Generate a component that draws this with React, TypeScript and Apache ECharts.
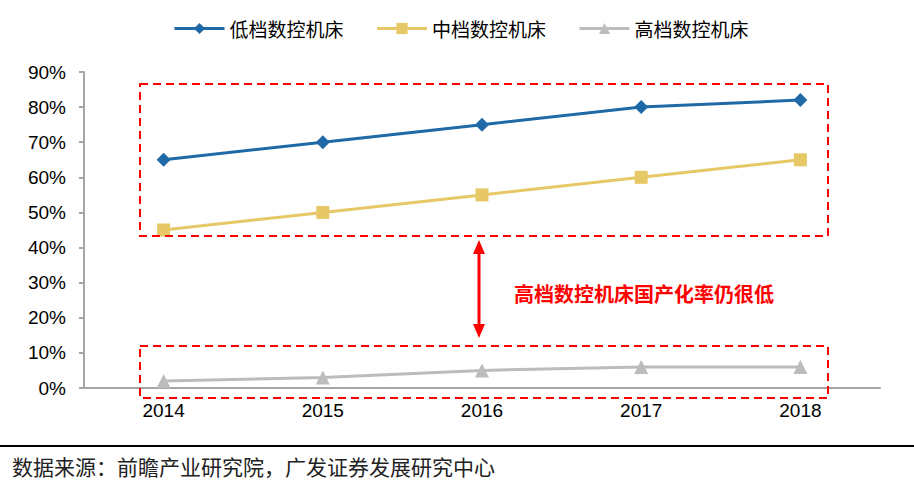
import React, { useEffect, useRef } from "react";
import * as echarts from "echarts";

const categories = ["2014", "2015", "2016", "2017", "2018"];
const lowEnd = [65, 70, 75, 80, 82];
const midEnd = [45, 50, 55, 60, 65];
const highEnd = [2, 3, 5, 6, 6];
const seriesNames = ["低档数控机床", "中档数控机床", "高档数控机床"];
const annotation = "高档数控机床国产化率仍很低";
const sourceText = "数据来源：前瞻产业研究院，广发证券发展研究中心";

const BLUE = "#1f6aa6";
const YELLOW = "#e6c866";
const GRAY = "#bcbcbc";
const RED = "#ff0000";

export default function App() {
  const ref = useRef<HTMLDivElement>(null);
  useEffect(() => {
    if (!ref.current) return;
    const chart = echarts.init(ref.current, undefined, { renderer: "svg" });
    const dashed = { stroke: RED, lineWidth: 2, lineDash: [8, 5], fill: "none" };
    chart.setOption({
      animation: false,
      backgroundColor: "#ffffff",
      legend: {
        top: 14,
        left: 168,
        itemWidth: 50,
        itemHeight: 14,
        itemGap: 32,
        lineStyle: { width: 3 },
        textStyle: { fontSize: 19, color: "#000", fontFamily: "Noto Sans CJK SC" },
        data: seriesNames,
      },
      grid: { left: 84, right: 34, top: 72, bottom: 102, containLabel: false },
      xAxis: {
        type: "category",
        data: categories,
        boundaryGap: true,
        axisLine: { lineStyle: { color: "#a6a6a6", width: 2 } },
        axisTick: { show: false },
        axisLabel: {
          margin: 13,
          fontSize: 19,
          color: "#000",
          fontFamily: "Liberation Sans",
        },
      },
      yAxis: {
        type: "value",
        min: 0,
        max: 90,
        interval: 10,
        axisLine: { show: true, lineStyle: { color: "#a6a6a6", width: 2 } },
        axisTick: { show: true, length: 5, lineStyle: { color: "#a6a6a6", width: 2 } },
        splitLine: { show: false },
        axisLabel: {
          formatter: "{value}%",
          margin: 18,
          fontSize: 19,
          color: "#000",
          fontFamily: "Liberation Sans",
        },
      },
      series: [
        {
          name: seriesNames[0],
          type: "line",
          data: lowEnd,
          symbol: "diamond",
          symbolSize: 14,
          lineStyle: { color: BLUE, width: 3 },
          itemStyle: { color: BLUE },
        },
        {
          name: seriesNames[1],
          type: "line",
          data: midEnd,
          symbol: "rect",
          symbolSize: 13,
          lineStyle: { color: YELLOW, width: 3 },
          itemStyle: { color: YELLOW },
        },
        {
          name: seriesNames[2],
          type: "line",
          data: highEnd,
          symbol: "triangle",
          symbolSize: 14,
          lineStyle: { color: GRAY, width: 3 },
          itemStyle: { color: GRAY },
        },
      ],
      graphic: [
        { type: "rect", shape: { x: 140, y: 84, width: 688, height: 152 }, style: dashed, z: 10 },
        { type: "rect", shape: { x: 140, y: 346, width: 688, height: 52 }, style: dashed, z: 10 },
        { type: "line", shape: { x1: 479, y1: 250, x2: 479, y2: 328 }, style: { stroke: RED, lineWidth: 3 }, z: 10 },
        { type: "polygon", shape: { points: [[479, 240], [473, 254], [485, 254]] }, style: { fill: RED }, z: 10 },
        { type: "polygon", shape: { points: [[479, 338], [473, 324], [485, 324]] }, style: { fill: RED }, z: 10 },
        {
          type: "text",
          x: 514,
          y: 293,
          style: {
            text: annotation,
            fill: RED,
            fontSize: 20,
            fontWeight: "bold",
            fontFamily: "Noto Sans CJK SC",
            verticalAlign: "middle",
            align: "left",
          },
          z: 10,
        },
        { type: "line", shape: { x1: 0, y1: 446, x2: 914, y2: 446 }, style: { stroke: "#000", lineWidth: 2 } },
        {
          type: "text",
          x: 12,
          y: 466,
          style: {
            text: sourceText,
            fill: "#222",
            fontSize: 21,
            fontFamily: "Noto Sans CJK SC",
            verticalAlign: "middle",
            align: "left",
          },
        },
      ],
    });
    return () => chart.dispose();
  }, []);
  return (
    <div
      ref={ref}
      style={{ position: "fixed", left: 0, top: 0, width: 914, height: 490 }}
    />
  );
}
